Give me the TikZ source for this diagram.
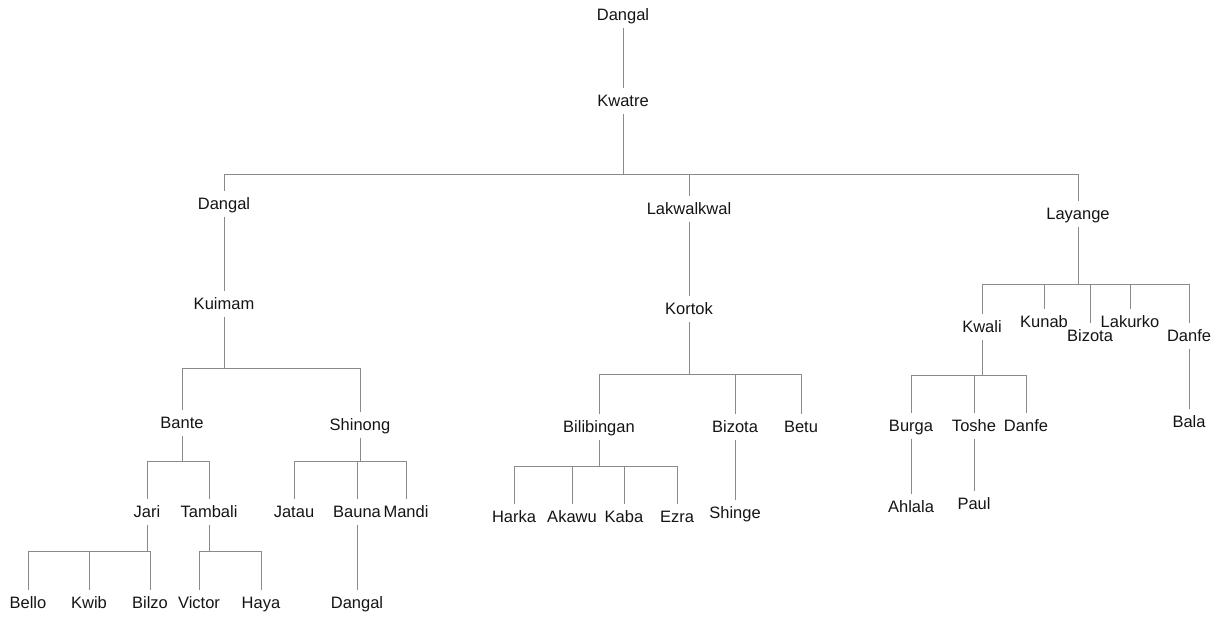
\documentclass[tikz,border=0pt]{standalone}
\usepackage{fontspec}
\setmainfont{Liberation Sans}
\usepackage{tikz}

\definecolor{linegray}{HTML}{8A8A8A}
\definecolor{namegray}{HTML}{141414}

% parent, level of the bar, children
\newcommand{\kin}[3]{%
  \draw[link] (#1.south) -- (#1.south |- 0,#2) coordinate (j);
  \foreach \c in {#3} {\draw[link] (j) -| (\c.north);}
}

\begin{document}
\begin{tikzpicture}[
          x=1pt, y=-1pt,
          every node/.style={font=\fontsize{16.5}{18}\selectfont, text=namegray,
            text height=11.8pt, text depth=0pt, inner xsep=1pt, inner ysep=6.5pt},
          link/.style={draw=linegray, line width=1pt}
        ]
          \useasboundingbox (0,0) rectangle (1228,616);

          \node (dangal0) at (623,15) {Dangal};
          \node (kwatre) at (623,101) {Kwatre};

          \node (dangal1) at (224,204) {Dangal};
          \node (lakwal) at (689,209) {Lakwalkwal};
          \node (layange) at (1078,214) {Layange};

          \node (kuimam) at (224,304) {Kuimam};
          \node (kortok) at (689,309) {Kortok};
          \node (kwali) at (982,327) {Kwali};
          \node (kunab) at (1044,322) {Kunab};
          \node (bizota2) at (1090,336) {Bizota};
          \node (lakurko) at (1130,322) {Lakurko};
          \node (danfe1) at (1189,336) {Danfe};

          \node (bante) at (182,423) {Bante};
          \node (shinong) at (360,425) {Shinong};
          \node (bilibingan) at (599,427) {Bilibingan};
          \node (bizota1) at (735,427) {Bizota};
          \node (betu) at (801,427) {Betu};
          \node (burga) at (911,426) {Burga};
          \node (toshe) at (974,426) {Toshe};
          \node (danfe2) at (1026,426) {Danfe};
          \node (bala) at (1189,422) {Bala};

          \node (jari) at (147,512) {Jari};
          \node (tambali) at (209,512) {Tambali};
          \node (jatau) at (294,512) {Jatau};
          \node (bauna) at (357,512) {Bauna};
          \node (mandi) at (406,512) {Mandi};
          \node (harka) at (514,517) {Harka};
          \node (akawu) at (572,517) {Akawu};
          \node (kaba) at (624,517) {Kaba};
          \node (ezra) at (677,517) {Ezra};
          \node (shinge) at (735,513) {Shinge};
          \node (ahlala) at (911,507) {Ahlala};
          \node (paul) at (974,504) {Paul};

          \node (bello) at (28,603) {Bello};
          \node (kwib) at (89,603) {Kwib};
          \node (bilzo) at (150,603) {Bilzo};
          \node (victor) at (199,603) {Victor};
          \node (haya) at (261,603) {Haya};
          \node (dangal2) at (357,603) {Dangal};

          \draw[link] (dangal0) -- (kwatre);
          \kin{kwatre}{174}{dangal1, lakwal, layange}
          \draw[link] (dangal1) -- (kuimam);
          \draw[link] (lakwal) -- (kortok);
          \kin{layange}{284}{kwali, kunab, bizota2, lakurko, danfe1}
          \kin{kuimam}{368}{bante, shinong}
          \kin{kortok}{374}{bilibingan, bizota1, betu}
          \kin{kwali}{375}{burga, toshe, danfe2}
          \draw[link] (danfe1) -- (bala);
          \kin{bante}{461}{jari, tambali}
          \kin{shinong}{461}{jatau, bauna, mandi}
          \kin{bilibingan}{466}{harka, akawu, kaba, ezra}
          \draw[link] (bizota1) -- (shinge);
          \draw[link] (burga) -- (ahlala);
          \draw[link] (toshe) -- (paul);
          \kin{jari}{551}{bello, kwib, bilzo}
          \kin{tambali}{551}{victor, haya}
          \draw[link] (bauna) -- (dangal2);
        \end{tikzpicture}
\end{document}
